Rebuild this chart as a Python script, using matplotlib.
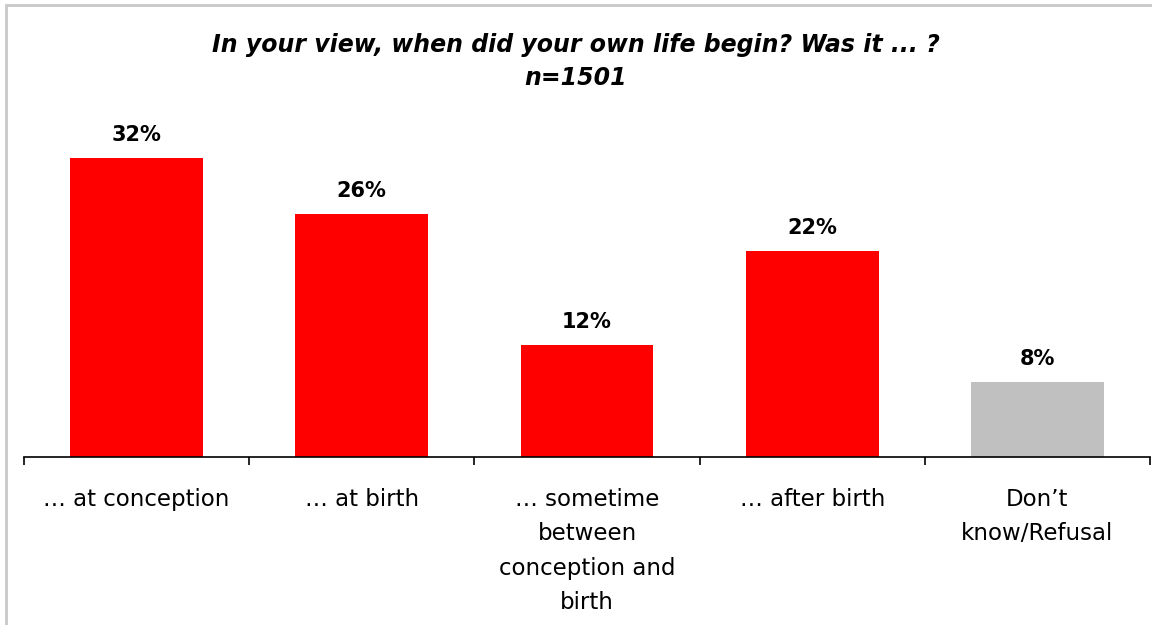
import matplotlib.pyplot as plt
from matplotlib.patches import Rectangle
import numpy as np

categories = ["… at conception", "… at birth",
              "… sometime\nbetween\nconception and\nbirth",
              "… after birth", "Don’t\nknow/Refusal"]
values = [32, 26, 12, 22, 8]
colors = ["#ff0000", "#ff0000", "#ff0000", "#ff0000", "#c0c0c0"]
title = "In your view, when did your own life begin? Was it ... ?\nn=1501"

fig = plt.figure(figsize=(11.52, 6.25), dpi=100)
ax = fig.add_axes([24 / 1152, 1 - 457 / 625, 1126 / 1152, 327 / 625])

x = np.arange(len(values))
ax.bar(x, values, width=0.59, color=colors)
for xi, v in zip(x, values):
    ax.text(xi, v + 1.4, f"{v}%", ha="center", va="bottom",
            fontsize=15, fontweight="bold")

ax.set_xlim(-0.5, len(values) - 0.5)
ax.set_ylim(0, 35)
ax.set_yticks([])
for s in ["top", "right", "left"]:
    ax.spines[s].set_visible(False)
ax.spines["bottom"].set_linewidth(1.2)

ax.set_xticks(x)
ax.set_xticklabels(categories, fontsize=16.5, linespacing=1.64, va="top")
ax.tick_params(axis="x", which="major", length=0, pad=22)
ax.set_xticks(np.arange(len(values) + 1) - 0.5, minor=True)
ax.tick_params(axis="x", which="minor", length=6, width=1.2, direction="out")

fig.text(0.5, 1 - 33 / 625, title, ha="center", va="top", fontsize=17,
         fontweight="bold", fontstyle="italic", linespacing=1.45)

fig.patches.append(Rectangle((6 / 1152, -0.1), 1.2, 1.1 - 5 / 625,
                             transform=fig.transFigure, fill=False,
                             edgecolor="#c8c8c8", linewidth=2))

fig.savefig("out.png", dpi=100)
